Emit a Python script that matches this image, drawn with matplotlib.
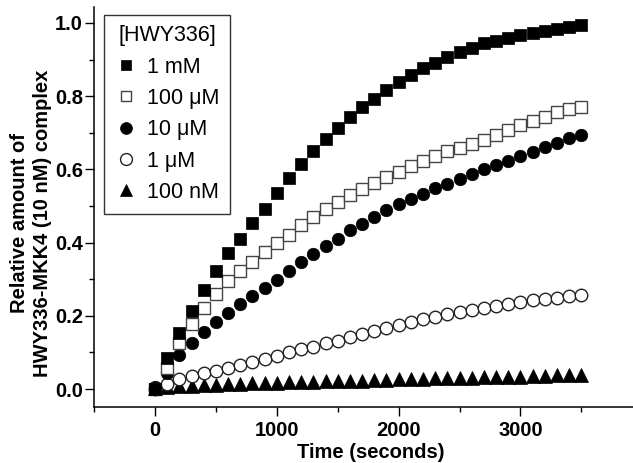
import numpy as np
import matplotlib
matplotlib.use("Agg")
import matplotlib.pyplot as plt
from matplotlib.ticker import MultipleLocator

plt.rcParams['font.family'] = ['Liberation Sans', 'DejaVu Sans']

time_s = np.arange(36) * 100

labels = ["1 mM", "100 \u03bcM", "10 \u03bcM", "1 \u03bcM", "100 nM"]

y_1mM = [0.0, 0.085, 0.154, 0.212, 0.27, 0.322, 0.371, 0.41, 0.453, 0.492,
         0.535, 0.576, 0.615, 0.65, 0.683, 0.713, 0.743, 0.77, 0.793, 0.816,
         0.838, 0.858, 0.876, 0.892, 0.908, 0.92, 0.933, 0.945, 0.952, 0.96,
         0.966, 0.972, 0.978, 0.984, 0.99, 0.995]
y_100uM = [0.0, 0.058, 0.125, 0.178, 0.22, 0.259, 0.295, 0.322, 0.348, 0.373,
           0.398, 0.422, 0.448, 0.471, 0.491, 0.51, 0.531, 0.546, 0.563, 0.58,
           0.594, 0.608, 0.624, 0.637, 0.65, 0.659, 0.67, 0.681, 0.695, 0.708,
           0.72, 0.733, 0.744, 0.756, 0.764, 0.771]
y_10uM = [0.005, 0.044, 0.092, 0.126, 0.156, 0.182, 0.209, 0.232, 0.254, 0.276,
          0.298, 0.322, 0.347, 0.37, 0.39, 0.41, 0.435, 0.452, 0.469, 0.488,
          0.505, 0.519, 0.534, 0.548, 0.561, 0.575, 0.588, 0.6, 0.613, 0.624,
          0.637, 0.648, 0.662, 0.671, 0.685, 0.694]
y_1uM = [0.0, 0.015, 0.027, 0.036, 0.043, 0.05, 0.057, 0.066, 0.075, 0.082,
         0.09, 0.1, 0.108, 0.116, 0.125, 0.132, 0.141, 0.15, 0.158, 0.167,
         0.176, 0.184, 0.191, 0.198, 0.204, 0.211, 0.216, 0.222, 0.228, 0.232,
         0.239, 0.242, 0.246, 0.25, 0.254, 0.257]
y_100nM = [0.002, 0.005, 0.007, 0.009, 0.01, 0.011, 0.013, 0.014, 0.016, 0.016,
           0.017, 0.018, 0.019, 0.02, 0.021, 0.022, 0.022, 0.023, 0.024, 0.025,
           0.026, 0.027, 0.028, 0.029, 0.03, 0.03, 0.031, 0.032, 0.033, 0.034,
           0.034, 0.035, 0.036, 0.037, 0.038, 0.039]

x_ticks = [0, 1000, 2000, 3000]
y_ticks = [0.0, 0.2, 0.4, 0.6, 0.8, 1.0]

fig = plt.figure(figsize=(6.33, 4.63), dpi=100)
ax = fig.add_axes([0.1487, 0.1203, 0.8513, 0.8656])

h5, = ax.plot(time_s, y_100nM, linestyle='none', marker='^', ms=9.5,
              mfc='black', mec='black', mew=0.5)
h4, = ax.plot(time_s, y_1uM, linestyle='none', marker='o', ms=9,
              mfc='white', mec='#222222', mew=1.0)
h3, = ax.plot(time_s, y_10uM, linestyle='none', marker='o', ms=9,
              mfc='black', mec='black', mew=0.5)
h2, = ax.plot(time_s, y_100uM, linestyle='none', marker='s', ms=8,
              mfc='white', mec='#444444', mew=1.0)
h1, = ax.plot(time_s, y_1mM, linestyle='none', marker='s', ms=8,
              mfc='black', mec='black', mew=0.5)

ax.set_xlim(-500, 3924)
ax.set_ylim(-0.05, 1.045)
ax.set_xticks(x_ticks)
ax.set_yticks(y_ticks)
ax.set_yticklabels([f"{v:.1f}" for v in y_ticks])
ax.xaxis.set_minor_locator(MultipleLocator(500))
ax.yaxis.set_minor_locator(MultipleLocator(0.1))

for s in ['top', 'right']:
    ax.spines[s].set_visible(False)
for s in ['left', 'bottom']:
    ax.spines[s].set_linewidth(1.1)

ax.tick_params(axis='both', which='major', direction='out', length=6.5, width=1.0,
               labelsize=14.5)
ax.tick_params(axis='both', which='minor', direction='out', length=3.5, width=1.0)
ax.tick_params(axis='y', which='major', pad=1.5)
ax.tick_params(axis='x', which='major', pad=3.5)
for lab in ax.get_xticklabels() + ax.get_yticklabels():
    lab.set_fontweight('bold')

ax.set_xlabel("Time (seconds)", fontsize=14.5, fontweight='bold')
ax.xaxis.set_label_coords(0.513, -0.09)
ax.set_ylabel("Relative amount of\nHWY336-MKK4 (10 nM) complex", fontsize=14.5,
              fontweight='bold', linespacing=1.3)
ax.yaxis.set_label_coords(-0.078, 0.46)

leg = ax.legend([h1, h2, h3, h4, h5], labels, title="[HWY336]",
                loc='upper left', bbox_to_anchor=(0.0186, 0.98),
                frameon=True, fancybox=False, edgecolor='black',
                fontsize=15.5, title_fontsize=15.5, handlelength=1.0,
                handletextpad=0.5, labelspacing=0.48, borderpad=0.5,
                borderaxespad=0.0, markerscale=0.95)
leg.get_frame().set_linewidth(1.0)

fig.savefig("out.png", dpi=100)
